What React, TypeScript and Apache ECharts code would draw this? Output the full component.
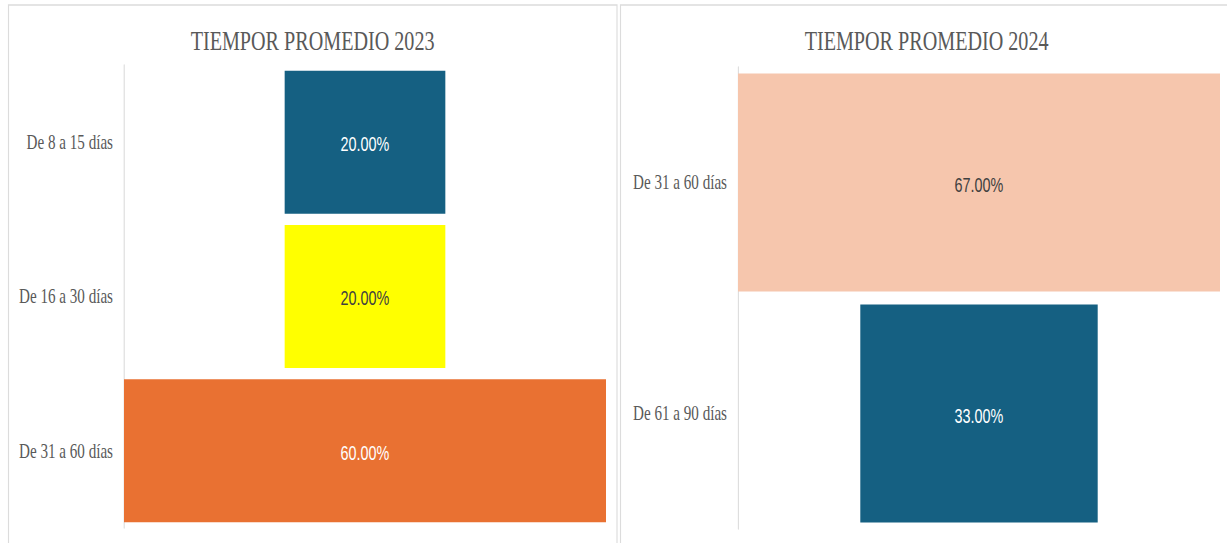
import React, { useEffect, useRef } from "react";
import * as echarts from "echarts";

const categories2023 = ["De 8 a 15 días", "De 16 a 30 días", "De 31 a 60 días"];
const values2023 = [20, 20, 60];
const colors2023 = ["#156082", "#FFFF00", "#E97132"];
const labelColors2023 = ["#FFFFFF", "#404040", "#FFFFFF"];

const categories2024 = ["De 31 a 60 días", "De 61 a 90 días"];
const values2024 = [67, 33];
const colors2024 = ["#F6C6AD", "#156082"];
const labelColors2024 = ["#404040", "#FFFFFF"];

const titles = ["TIEMPOR PROMEDIO 2023", "TIEMPOR PROMEDIO 2024"];

const S = 0.72; // horizontal compression of the reference picture
const W = 1227 / S;
const H = 543;
const px = (x: number) => x / S;

export default function App() {
  const ref = useRef<HTMLDivElement>(null);
  useEffect(() => {
    if (!ref.current) return;
    const chart = echarts.init(ref.current, undefined, { renderer: "svg" });
    const max23 = Math.max(...values2023);
    const max24 = Math.max(...values2024);
    const labelFmt = (p: any) => Number(p.value).toFixed(2) + "%";
    const yAxisCommon = {
      type: "category" as const,
      inverse: true,
      axisTick: { show: false },
      axisLine: { show: true, lineStyle: { color: "#d9d9d9", width: 1.4 } },
      axisLabel: {
        color: "#595959",
        fontFamily: "Liberation Serif",
        fontSize: 21,
        margin: px(11),
      },
    };
    const barLabel = {
      show: true,
      position: "inside",
      formatter: labelFmt,
      fontFamily: "Liberation Sans",
      fontSize: 20,
      offset: [0, 2],
    };
    chart.setOption({
      animation: false,
      title: [
        {
          text: titles[0],
          left: px(309),
          textAlign: "center",
          top: 21,
          textStyle: { fontFamily: "Liberation Serif", fontSize: 28, fontWeight: "normal", color: "#595959" },
        },
        {
          text: titles[1],
          left: px(923),
          textAlign: "center",
          top: 21,
          textStyle: { fontFamily: "Liberation Serif", fontSize: 28, fontWeight: "normal", color: "#595959" },
        },
      ],
      graphic: [
        {
          type: "rect",
          shape: { x: px(8.5), y: 5, width: px(617) - px(8.5), height: 560 },
          style: { fill: "none", stroke: "#dcdcdc", lineWidth: 1.6 },
          silent: true,
        },
        {
          type: "rect",
          shape: { x: px(620.5), y: 5, width: W, height: 560 },
          style: { fill: "none", stroke: "#dcdcdc", lineWidth: 1.6 },
          silent: true,
        },
      ],
      grid: [
        { left: px(124), width: px(482), top: 65, height: 463 },
        { left: px(738), width: px(482), top: 67, height: 462 },
      ],
      xAxis: [
        { type: "value", gridIndex: 0, min: 0, max: max23, show: false },
        { type: "value", gridIndex: 1, min: 0, max: max24, show: false },
      ],
      yAxis: [
        { ...yAxisCommon, gridIndex: 0, data: categories2023 },
        { ...yAxisCommon, gridIndex: 1, data: categories2024, axisLabel: { ...yAxisCommon.axisLabel, padding: [4, 0, 0, 0] } },
      ],
      series: [
        {
          type: "bar",
          xAxisIndex: 0,
          yAxisIndex: 0,
          stack: "a",
          barWidth: 143,
          silent: true,
          itemStyle: { color: "transparent" },
          data: values2023.map((v) => (max23 - v) / 2),
        },
        {
          type: "bar",
          xAxisIndex: 0,
          yAxisIndex: 0,
          stack: "a",
          barWidth: 143,
          data: values2023.map((v, i) => ({
            value: v,
            itemStyle: { color: colors2023[i] },
            label: { color: labelColors2023[i] },
          })),
          label: barLabel,
        },
        {
          type: "bar",
          xAxisIndex: 1,
          yAxisIndex: 1,
          stack: "b",
          barWidth: 218,
          silent: true,
          itemStyle: { color: "transparent" },
          data: values2024.map((v) => (max24 - v) / 2),
        },
        {
          type: "bar",
          xAxisIndex: 1,
          yAxisIndex: 1,
          stack: "b",
          barWidth: 218,
          data: values2024.map((v, i) => ({
            value: v,
            itemStyle: { color: colors2024[i] },
            label: { color: labelColors2024[i] },
          })),
          label: { ...barLabel, offset: [0, 3] },
        },
      ],
    });
    return () => chart.dispose();
  }, []);
  return (
    <div style={{ position: "absolute", left: 0, top: 0, width: 1227, height: H, overflow: "hidden", background: "#fff" }}>
      <div
        ref={ref}
        style={{ width: W, height: H, transform: `scaleX(${S})`, transformOrigin: "0 0" }}
      />
    </div>
  );
}
